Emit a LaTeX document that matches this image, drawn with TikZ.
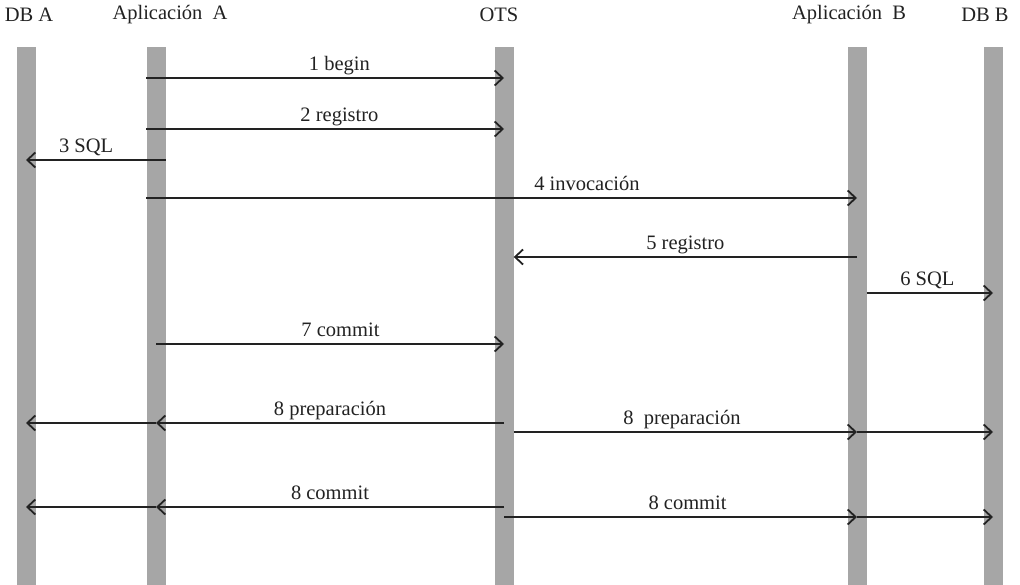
\documentclass[tikz,border=0pt]{standalone}
\usepackage{fontspec}
\setmainfont{Liberation Serif}
\usepackage{tikz}
\usetikzlibrary{arrows.meta,positioning,calc}
\definecolor{barcolor}{HTML}{A6A6A6}
\definecolor{inkcolor}{HTML}{222222}
\tikzstyle{lifeline} = [rectangle, fill=barcolor, draw=none, minimum width=19pt, minimum height=538pt, inner sep=0pt]
\tikzstyle{header} = [text=inkcolor, inner sep=0pt]
\tikzstyle{msg} = [-{Straight Barb[length=8pt,width=15pt]}, line width=1.8pt, draw=inkcolor]
\tikzstyle{lbl} = [above, text=inkcolor, inner sep=3pt, text height=14pt, text depth=4pt]
\begin{document}
\begin{tikzpicture}[x=1pt, y=-1pt]
			\tikzstyle{every node}=[font=\fontsize{20.5}{24}\selectfont]
			\useasboundingbox (0,0) rectangle (1020,585);
			
			% lifelines
			\node [lifeline] (dba) at (26,316) {};
			\node [lifeline] (appa) at (156,316) {};
			\node [lifeline] (ots) at (504,316) {};
			\node [lifeline] (appb) at (857,316) {};
			\node [lifeline] (dbb) at (993,316) {};
			
			\node [header] (hdba) at (29,15) {DB A};
			\node [header] (happa) at (170,15) {Aplicación~ A};
			\node [header] (hots) at (499,15) {OTS};
			\node [header] (happb) at (849,15) {Aplicación~ B};
			\node [header] (hdbb) at (985,15) {DB B};
			
			% message rows
			\coordinate (m1) at (0,78);
			\coordinate (m2) at (0,129);
			\coordinate (m3) at (0,160);
			\coordinate (m4) at (0,198);
			\coordinate (m5) at (0,257);
			\coordinate (m6) at (0,293);
			\coordinate (m7) at (0,344);
			\coordinate (m8a) at (0,423);
			\coordinate (m8b) at (0,432);
			\coordinate (m8c) at (0,507);
			\coordinate (m8d) at (0,517);
			
			\draw[msg] (appa.west |- m1) -- node[lbl, pos=0.54] {1 begin} (ots.center |- m1);
			\draw[msg] (appa.west |- m2) -- node[lbl, pos=0.54] {2 registro} (ots.center |- m2);
			\draw[msg] (appa.east |- m3) -- node[lbl, pos=0.57] {3 SQL} (dba.center |- m3);
			\draw[msg] (appa.west |- m4) -- node[lbl, pos=0.62] {4 invocación} (appb.center |- m4);
			\draw[msg] (appb.center |- m5) -- node[lbl, pos=0.5] {5 registro} (ots.east |- m5);
			\draw[msg] (appb.east |- m6) -- node[lbl, pos=0.48] {6 SQL} (dbb.center |- m6);
			\draw[msg] (appa.center |- m7) -- node[lbl, pos=0.53] {7 commit} (ots.center |- m7);
			
			\draw[msg] (ots.center |- m8a) -- node[lbl, pos=0.5] {8 preparación} (appa.center |- m8a);
			\draw[msg] (appa.center |- m8a) -- (dba.center |- m8a);
			\draw[msg] (ots.east |- m8b) -- node[lbl, pos=0.49] {8~ preparación} (appb.center |- m8b);
			\draw[msg] (appb.center |- m8b) -- (dbb.center |- m8b);
			
			\draw[msg] (ots.center |- m8c) -- node[lbl, pos=0.5] {8 commit} (appa.center |- m8c);
			\draw[msg] (appa.center |- m8c) -- (dba.center |- m8c);
			\draw[msg] (ots.center |- m8d) -- node[lbl, pos=0.52] {8 commit} (appb.center |- m8d);
			\draw[msg] (appb.center |- m8d) -- (dbb.center |- m8d);
			
		\end{tikzpicture}
\end{document}
